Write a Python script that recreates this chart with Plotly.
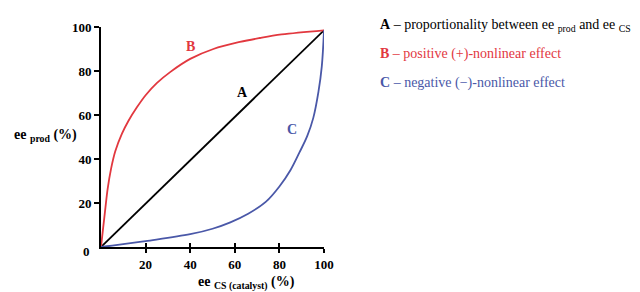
import plotly.graph_objects as go

a_x = [0, 100]
a_y = [0, 98.5]
b_x = [0, 1, 2, 3, 4.5, 6.4, 9.4, 12.4, 16.1, 20, 25, 31, 40, 50.4, 62.3, 71.3, 81, 100]
b_y = [0, 9, 18, 26.5, 35.5, 43.5, 51.5, 57.5, 63.5, 69, 74.5, 79.5, 85.5, 90, 93.2, 95, 96.6, 98.5]
c_x = [0, 5, 20, 40, 50, 58, 66, 74, 80, 85, 89, 92.5, 95.2, 97.5, 99, 100]
c_y = [0, 0.6, 2.7, 5.8, 8.3, 11.2, 15.1, 20.6, 27.5, 35, 43, 50.5, 58.7, 70.5, 82, 98.5]
tick_vals = [20, 40, 60, 80, 100]

RED = "#e2383f"
BLUE = "#4a58a8"
FONT = "Liberation Serif"

OFF = 8  # page body margin
W, H = 640 - OFF, 292 - OFF
L, R, T, B = 101 - OFF, 640 - 324, 20 - OFF, 292 - 247

fig = go.Figure()
fig.add_trace(go.Scatter(x=a_x, y=a_y, mode="lines", line=dict(color="black", width=1.8)))
fig.add_trace(go.Scatter(x=b_x, y=b_y, mode="lines", line=dict(color=RED, width=1.8, shape="spline", smoothing=1)))
fig.add_trace(go.Scatter(x=c_x, y=c_y, mode="lines", line=dict(color=BLUE, width=1.8, shape="spline", smoothing=1)))
fig.add_trace(go.Scatter(x=[0], y=[0], xaxis="x2", mode="markers", marker=dict(opacity=0), hoverinfo="skip"))

tf = dict(family=FONT, size=13, color="black", weight="bold")
fig.update_layout(
    width=W, height=H,
    margin=dict(l=L, r=R, t=T, b=B),
    paper_bgcolor="white", plot_bgcolor="white",
    showlegend=False,
    font=dict(family=FONT, size=13, color="black"),
    xaxis=dict(range=[0, 100], tickvals=tick_vals, showgrid=False, zeroline=False,
               showline=True, linecolor="black", linewidth=2,
               ticks="outside", ticklen=4, tickwidth=1.5, tickcolor="black", tickfont=tf),
    xaxis2=dict(range=[0, 100], tickvals=tick_vals, overlaying="x", side="bottom",
                showgrid=False, zeroline=False, showline=False, showticklabels=False,
                ticks="inside", ticklen=4, tickwidth=1.5, tickcolor="black"),
    yaxis=dict(range=[0, 100], tickvals=tick_vals, showgrid=False, zeroline=False,
               showline=True, linecolor="black", linewidth=2,
               ticks="outside", ticklen=5, tickwidth=1.5, tickcolor="black", tickfont=tf),
)

pw, ph = W - L - R, H - T - B


def px(xp, yp):
    # page pixel -> paper coords
    return (xp - OFF - L) / pw, (H - B - (yp - OFF)) / ph


ann = []


def add_px(xp, yp, text, size, color="black", xanchor="center"):
    x, y = px(xp, yp)
    ann.append(dict(x=x, y=y, xref="paper", yref="paper", text=text, showarrow=False,
                    xanchor=xanchor, yanchor="middle", align="left",
                    font=dict(family=FONT, size=size, color=color)))


add_px(92, 252, "<b>0</b>", 13, xanchor="right")
add_px(190, 40, "<b>B</b>", 14, RED)
add_px(242, 88, "<b>A</b>", 14, "black")
add_px(292, 126, "<b>C</b>", 14, BLUE)
add_px(45, 132, "<b>ee <sub>prod</sub> (%)</b>", 14)
add_px(246, 284, "<b>ee <sub>CS (catalyst)</sub> (%)</b>", 14)
legend_rows = [
    ("<b>A</b> – proportionality between ee <sub>prod</sub> and ee <sub>CS</sub>", "black", 18),
    ("<b>B</b> – positive (+)-nonlinear effect", RED, 48),
    ("<b>C</b> – negative (−)-nonlinear effect", BLUE, 78),
]
for txt, col, ypx in legend_rows:
    add_px(378, ypx, txt, 14, col, xanchor="left")

fig.update_layout(annotations=ann)
fig.write_html("out.html")
